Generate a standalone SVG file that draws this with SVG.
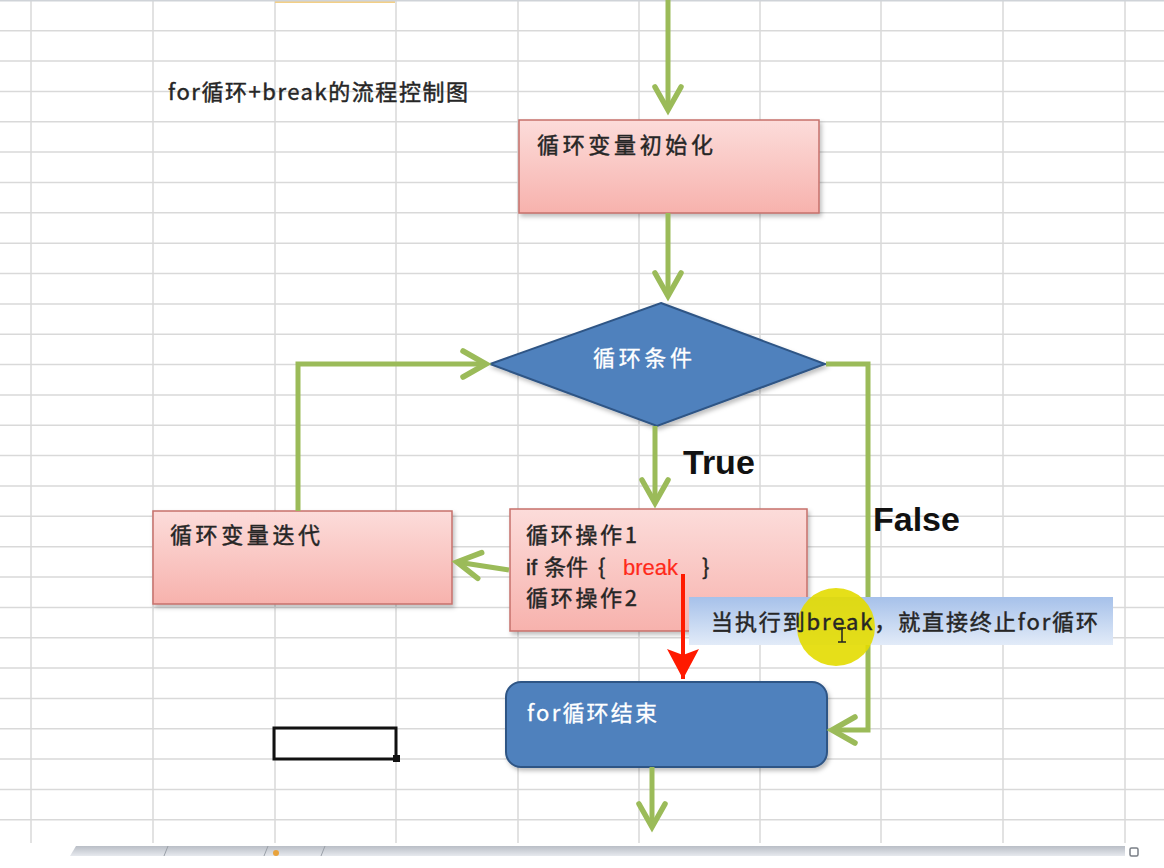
<svg xmlns="http://www.w3.org/2000/svg" width="1164" height="868" viewBox="0 0 1164 868">
<style>
.grid{stroke:#d9d9d9;stroke-width:1.5;fill:none}
.txt{font-family:"Noto Sans CJK SC","Liberation Sans",sans-serif;font-size:22px;fill:#262626;stroke:#262626;stroke-width:0.45}
.wtxt{font-family:"Noto Sans CJK SC","Liberation Sans",sans-serif;font-size:22px;fill:#ffffff;stroke:#ffffff;stroke-width:0.3}
.lat{font-family:"Liberation Sans",Arial,sans-serif}
.lbl{font-family:"Liberation Sans",Arial,sans-serif;font-size:34px;font-weight:bold;fill:#111}
.pink{fill:url(#pinkGrad);stroke:#c6706b;stroke-width:1.5;filter:url(#shadow)}
.blue{fill:#4f81bd;stroke:#2f5585;stroke-width:2;filter:url(#shadow)}
.conn{fill:none;stroke:#9bbb59;stroke-width:5;marker-end:url(#garrow)}
</style>
<defs>
<linearGradient id="pinkGrad" x1="0" y1="0" x2="0" y2="1">
<stop offset="0" stop-color="#fcdcda"/>
<stop offset="1" stop-color="#f7b2ad"/>
</linearGradient>
<linearGradient id="tipGrad" x1="0" y1="0" x2="0" y2="1">
<stop offset="0" stop-color="#a6c1ea"/>
<stop offset="1" stop-color="#e2ebf8"/>
</linearGradient>
<linearGradient id="barGrad" x1="0" y1="0" x2="0" y2="1">
<stop offset="0" stop-color="#b9bec6"/>
<stop offset="1" stop-color="#e6e9ee"/>
</linearGradient>
<filter id="shadow" x="-10%" y="-10%" width="130%" height="140%">
<feDropShadow dx="2" dy="3" stdDeviation="2" flood-color="#000" flood-opacity="0.25"/>
</filter>
<marker id="garrow" markerUnits="userSpaceOnUse" viewBox="-30 -18 36 36" markerWidth="36" markerHeight="36" refX="0" refY="0" orient="auto">
<path d="M-23,-13 L0,0 L-23,13" fill="none" stroke="#9bbb59" stroke-width="5.5" stroke-linejoin="miter" stroke-linecap="round"/>
</marker>
<marker id="rarrow" markerUnits="userSpaceOnUse" viewBox="-34 -18 36 36" markerWidth="36" markerHeight="36" refX="0" refY="0" orient="auto">
<path d="M-30,-16 L0,0 L-30,16 L-24,0 Z" fill="#ff1a00"/>
</marker>
</defs>

<rect x="0" y="0" width="1164" height="868" fill="#ffffff"/>
<g id="grid">
<path class="grid" d="M0,30.7H1164M0,61.1H1164M0,91.4H1164M0,121.8H1164M0,152.1H1164M0,182.5H1164M0,212.8H1164M0,243.2H1164M0,273.5H1164M0,303.9H1164M0,334.2H1164M0,364.6H1164M0,394.9H1164M0,425.3H1164M0,455.6H1164M0,486H1164M0,516.3H1164M0,546.7H1164M0,577H1164M0,607.4H1164M0,637.7H1164M0,668.1H1164M0,698.4H1164M0,728.8H1164M0,759.1H1164M0,789.5H1164M0,819.8H1164"/>
<path class="grid" d="M31,0V843M153,0V843M275,0V843M396,0V843M518,0V843M639,0V843M760,0V843M881,0V843M1003,0V843M1125,0V843"/>
<rect x="275" y="0" width="120" height="3" fill="#f3cf86"/>
<rect x="0" y="0" width="1164" height="1.5" fill="#cfd3d8"/>
</g>

<g id="sheetbar">
<rect x="0" y="844" width="1164" height="24" fill="#ffffff"/>
<path d="M76,846 L1125,846 L1125,856 L70,856 Z" fill="url(#barGrad)"/>
<path d="M168,846 L164,856 M268,846 L264,856 M325,846 L321,856" stroke="#9aa0a8" stroke-width="1"/>
<circle cx="276" cy="853" r="3" fill="#e8a33c"/>
<rect x="1130" y="848" width="8" height="8" rx="1.5" fill="none" stroke="#7a7f86" stroke-width="1.5"/>
</g>

<g id="title">
<text class="txt" x="168" y="100" textLength="300">for循环+break的流程控制图</text>
</g>

<g id="selected-cell">
<rect x="274" y="728" width="122" height="31" fill="none" stroke="#111" stroke-width="3"/>
<rect x="393" y="755" width="7" height="7" fill="#111"/>
</g>

<g id="init">
<rect class="pink" x="519" y="120" width="300" height="93"/>
<text class="txt" x="537" y="153" textLength="176">循环变量初始化</text>
</g>

<g id="cond">
<path class="blue" d="M661,303 L825,364 L657,426 L490,364 Z"/>
<text class="wtxt" x="593" y="366" textLength="99">循环条件</text>
</g>

<g id="iter">
<rect class="pink" x="153" y="511" width="299" height="93"/>
<text class="txt" x="170" y="543" textLength="150">循环变量迭代</text>
</g>

<g id="ops">
<rect class="pink" x="510" y="509" width="297" height="122"/>
<text class="txt" x="526" y="543" textLength="111">循环操作1</text>
<text class="txt" x="526" y="575"><tspan class="lat">if</tspan><tspan x="544">条件</tspan><tspan x="598">{</tspan><tspan x="623" class="lat" fill="#ff2a1a" stroke="#ff2a1a" stroke-width="0.2" textLength="55">break</tspan><tspan x="702">}</tspan></text>
<text class="txt" x="526" y="606" textLength="111">循环操作2</text>
</g>

<g id="end">
<rect class="blue" x="506" y="682" width="321" height="85" rx="15" ry="15"/>
<text class="wtxt" x="527" y="721" textLength="130">for循环结束</text>
</g>

<g id="connectors">
<path class="conn" d="M668,0 V110"/>
<path class="conn" d="M668,213 V296"/>
<path class="conn" d="M655,426 V503"/>
<path class="conn" d="M509,570 L457,562"/>
<path class="conn" d="M298,511 V364 H486"/>
<path class="conn" d="M826,364 H868 V730 H832"/>
<path class="conn" d="M652,767 V827"/>
<path d="M683,574 V679" fill="none" stroke="#ff1a00" stroke-width="4" marker-end="url(#rarrow)"/>
</g>

<g id="labels">
<text class="lbl" x="683" y="474">True</text>
<text class="lbl" x="873" y="531">False</text>
</g>

<g id="tooltip">
<rect x="689" y="597" width="424" height="48" fill="url(#tipGrad)"/>
<circle cx="836" cy="627" r="39" fill="#e3dc00" opacity="0.9"/>
<text class="txt" x="711" y="630" textLength="387">当执行到break，就直接终止for循环</text>
<path d="M838,628 H846 M842,628 V642 M838,642 H846" stroke="#222" stroke-width="1.5" fill="none"/>
</g>
</svg>
